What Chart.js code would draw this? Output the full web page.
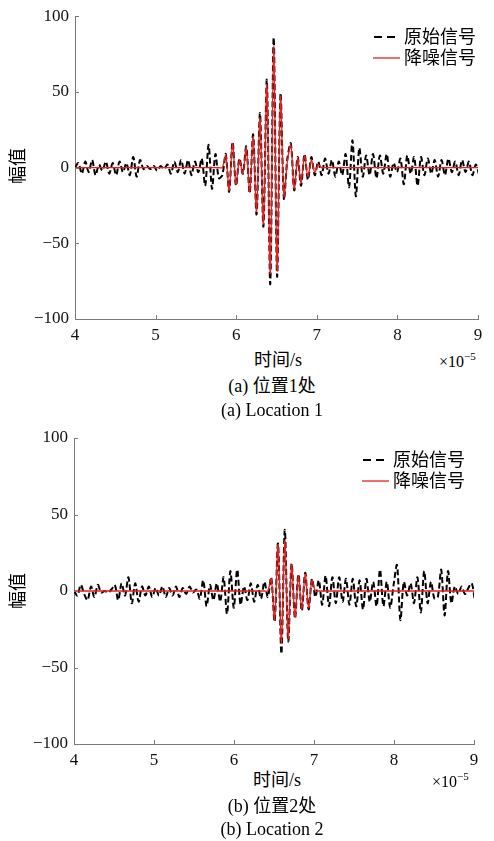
<!DOCTYPE html>
<html lang="zh">

<head>
    <meta charset="UTF-8">
    <meta name="viewport" content="width=device-width, initial-scale=1.0">
    <title>原始信号与降噪信号</title>
    <script src="https://cdn.jsdelivr.net/npm/chart.js"></script>
    <style>
        body {
            margin: 0;
            background: #fff;
            font-family: "Liberation Serif", "Noto Sans CJK SC", serif;
            color: #000;
        }

        .page {
            position: relative;
            width: 494px;
            height: 841px;
            overflow: hidden;
        }

        canvas {
            position: absolute;
            left: 0;
        }

        .txt {
            position: absolute;
            white-space: nowrap;
            font-size: 18px;
            line-height: 18px;
        }

        .center {
            transform: translate(-50%, -50%);
        }

        .ylab {
            transform: translate(-50%, -50%) rotate(-90deg);
        }

        .exp {
            font-size: 16px;
            line-height: 16px;
            transform: translateY(-50%);
        }

        .exp sup {
            font-size: 11px;
            vertical-align: 7px;
        }

        .legend {
            position: absolute;
            font-size: 18px;
            line-height: 18px;
        }

        .legend div {
            height: 21px;
            display: flex;
            align-items: center;
        }

        .legend svg {
            margin-right: 4px;
        }
    </style>
</head>

<body>
    <div class="page">
        <canvas id="chart1" width="494" height="345" style="top:0"></canvas>
        <canvas id="chart2" width="494" height="350" style="top:420px"></canvas>

        <!-- plot (a) -->
        <div class="txt ylab" style="left:18px; top:166px">幅值</div>
        <div class="txt center" style="left:278px; top:360px">时间/s</div>
        <div class="txt exp" style="left:439px; top:359px">×10<sup>−5</sup></div>
        <div class="txt center" style="left:272px; top:386px">(a) 位置1处</div>
        <div class="txt center" style="left:272px; top:410px">(a) Location 1</div>
        <div class="legend" style="left:373px; top:26px">
            <div><svg width="27" height="4"><line x1="1" y1="2" x2="27" y2="2" stroke="#000" stroke-width="2" stroke-dasharray="8 5 8 40"/></svg>原始信号</div>
            <div><svg width="27" height="4"><line x1="0" y1="2" x2="27" y2="2" stroke="#ee1c1c" stroke-width="1.3"/></svg>降噪信号</div>
        </div>

        <!-- plot (b) -->
        <div class="txt ylab" style="left:18px; top:591px">幅值</div>
        <div class="txt center" style="left:277px; top:780px">时间/s</div>
        <div class="txt exp" style="left:432px; top:779px">×10<sup>−5</sup></div>
        <div class="txt center" style="left:272px; top:806px">(b) 位置2处</div>
        <div class="txt center" style="left:272px; top:829px">(b) Location 2</div>
        <div class="legend" style="left:362px; top:449px">
            <div><svg width="27" height="4"><line x1="1" y1="2" x2="27" y2="2" stroke="#000" stroke-width="2" stroke-dasharray="8 5 8 40"/></svg>原始信号</div>
            <div><svg width="27" height="4"><line x1="0" y1="2" x2="27" y2="2" stroke="#ee1c1c" stroke-width="1.3"/></svg>降噪信号</div>
        </div>
    </div>

    <script>
        // sampling grid (x10^-5 s)
        const T0 = 4;
        const DT = 0.0425;

        const xTicks = [4, 5, 6, 7, 8, 9];
        const yTicks = [-100, -50, 0, 50, 100];

        // location 1
        const raw1 = [
            0, 3, -4, 4, -3, 5, -5, 2, -2, 4,
            -4, 3, -5, 4, -3, 3, -5, 7, -6, 5,
            -1, 1, -1, 1, -2, 1, -1, 2, -4, 4,
            -3, 5, -4, 5, -5, 4, -3, 6, -12, 15,
            -14, 9, -7, -5, 9, -16, 17, -12, 6, -4,
            14, -17, 22, -31, 36, -39, 58, -77, 86, -72,
            49, -21, 6, 16, -15, 7, -12, 9, -8, 7,
            -5, 4, -5, 6, -4, 5, -6, 4, -5, 9,
            -13, 18, -19, 13, -6, 8, -5, 9, -7, 8,
            -4, 9, -6, 3, -3, 6, -11, 8, -4, 7,
            -12, 7, -5, 6, -4, 5, -6, 5, -5, 6,
            -3, 4, -5, 5, -3, 4, -5, 2, -5
        ];
        const den1 = [
            0, 0, 0, 0, 0, 0, 0, 0, 0, 0,
            0, 0, 0, 0, 0, 0, 0, 0, 0, 0,
            0, 0, 0, 0, 0, 0, 0, 0, 0, 0,
            0, 0, 0, 0, 0, 0, 0, 0, 0, 0,
            0, 0, 0, 0, 8, -15, 16, -11, 5, -4,
            13, -16, 20, -29, 33, -37, 55, -70, 80, -68,
            47, -19, 4, 15, -14, 6, -10, 8, -6, 5,
            -3, 2, 0, 0, 0, 0, 0, 0, 0, 0,
            0, 0, 0, 0, 0, 0, 0, 0, 0, 0,
            0, 0, 0, 0, 0, 0, 0, 0, 0, 0,
            0, 0, 0, 0, 0, 0, 0, 0, 0, 0,
            0, 0, 0, 0, 0, 0, 0, 0, 0
        ];

        // location 2
        const raw2 = [
            0, -3, 4, -2, -6, 3, -4, 4, -1, 0,
            -1, 1, 4, -6, 5, -3, 9, -8, 5, -7,
            3, -3, 3, -4, 2, -3, 3, -4, 2, -3,
            3, -4, 2, -2, 3, -1, 1, -5, 7, -10,
            4, -6, 5, -7, 9, -15, 13, -11, 14, -9,
            3, -6, 5, -7, 4, -5, 6, -4, 9, -20,
            31, -41, 40, -33, 18, -18, 11, -13, 12, -12,
            8, -4, 7, -9, 10, -10, 9, -8, 9, -7,
            8, -9, 8, -10, 7, -12, 8, -7, 6, -10,
            14, -10, 6, -11, 4, 17, -19, 6, -3, 5,
            -8, 9, -14, 13, -8, 6, -5, -4, 14, -16,
            13, -8, 3, -2, 3, -2, 2, 5, -8
        ];
        const den2 = [
            0, 0, 0, 0, 0, 0, 0, 0, 0, 0,
            0, 0, 0, 0, 0, 0, 0, 0, 0, 0,
            0, 0, 0, 0, 0, 0, 0, 0, 0, 0,
            0, 0, 0, 0, 0, 0, 0, 0, 0, 0,
            0, 0, 0, 0, 0, 0, 0, 0, 0, 0,
            0, 0, 0, 0, 0, 0, 0, 0, 8, -19,
            30, -34, 33, -31, 17, -17, 10, -12, 11, -11,
            7, 0, 0, 0, 0, 0, 0, 0, 0, 0,
            0, 0, 0, 0, 0, 0, 0, 0, 0, 0,
            0, 0, 0, 0, 0, 0, 0, 0, 0, 0,
            0, 0, 0, 0, 0, 0, 0, 0, 0, 0,
            0, 0, 0, 0, 0, 0, 0, 0, 0
        ];

        const AXIS_COLOR = "#7a7a7a";
        const tickFont = { family: "Liberation Serif", size: 17 };

        function toPoints(values) {
            return values.map((v, i) => ({ x: T0 + i * DT, y: v }));
        }

        // ticks pointing into the plot, like the original figure
        const inwardTicks = {
            id: "inwardTicks",
            afterDatasetsDraw(chart) {
                const { ctx, chartArea: a, scales } = chart;
                ctx.save();
                ctx.strokeStyle = AXIS_COLOR;
                ctx.lineWidth = 1;
                ctx.beginPath();
                xTicks.forEach((t) => {
                    const px = Math.round(scales.x.getPixelForValue(t)) + 0.5;
                    ctx.moveTo(px, a.bottom);
                    ctx.lineTo(px, a.bottom - 4);
                });
                yTicks.forEach((t) => {
                    const py = Math.round(scales.y.getPixelForValue(t)) + 0.5;
                    ctx.moveTo(a.left, py);
                    ctx.lineTo(a.left + 4, py);
                });
                ctx.stroke();
                ctx.restore();
            },
        };

        function makeChart(id, raw, den, pad, yWidth) {
            const ctx = document.getElementById(id).getContext("2d");
            return new Chart(ctx, {
                type: "line",
                data: {
                    datasets: [
                        {
                            label: "降噪信号",
                            data: toPoints(den),
                            borderColor: "#ee1c1c",
                            borderWidth: 1.3,
                            pointRadius: 0,
                            tension: 0.3,
                            fill: false,
                        },
                        {
                            label: "原始信号",
                            data: toPoints(raw),
                            borderColor: "#000",
                            borderWidth: 2,
                            borderDash: [6, 3],
                            pointRadius: 0,
                            tension: 0.3,
                            fill: false,
                        },
                    ],
                },
                options: {
                    responsive: false,
                    animation: false,
                    layout: { padding: pad },
                    plugins: {
                        legend: { display: false },
                        tooltip: { enabled: false },
                    },
                    scales: {
                        x: {
                            type: "linear",
                            min: 4,
                            max: 9,
                            afterBuildTicks: (s) => { s.ticks = xTicks.map((v) => ({ value: v })); },
                            ticks: { font: tickFont, color: "#111", padding: 6, maxRotation: 0 },
                            grid: { display: false, drawTicks: false },
                            border: { color: AXIS_COLOR, width: 1 },
                            afterFit: (s) => { s.height = 22; },
                        },
                        y: {
                            min: -100,
                            max: 100,
                            afterBuildTicks: (s) => { s.ticks = yTicks.map((v) => ({ value: v })); },
                            ticks: {
                                font: tickFont,
                                color: "#111",
                                padding: 6,
                                callback: (v) => String(v).replace("-", "\u2212"),
                            },
                            grid: { display: false, drawTicks: false },
                            border: { color: AXIS_COLOR, width: 1 },
                            afterFit: (s) => { s.width = yWidth; },
                        },
                    },
                },
                plugins: [inwardTicks],
            });
        }

        makeChart("chart1", raw1, den1, { left: 0, right: 16, top: 13, bottom: 4 }, 75);
        makeChart("chart2", raw2, den2, { left: 0, right: 20, top: 18, bottom: 4 }, 74);
    </script>
</body>

</html>
